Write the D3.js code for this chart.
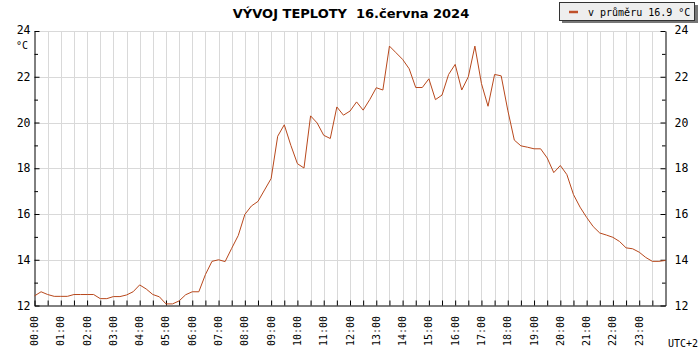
<!DOCTYPE html>
<html>
<head>
<meta charset="utf-8">
<script src="https://cdn.jsdelivr.net/npm/d3@7"></script>
<style>
  body { margin: 0; background: #fff; }
  svg { display: block; }
  .mono { font-family: "DejaVu Sans Mono", monospace; fill: #000; }
</style>
</head>
<body>
<svg id="chart" width="700" height="350"></svg>
<script>
// temperature every 15 minutes, 00:00 .. 24:00
const stepMinutes = 15;
const temps = [
  12.42, 12.6, 12.48, 12.4, 12.4, 12.4, 12.48, 12.48, 12.48, 12.48,
  12.3, 12.3, 12.39, 12.39, 12.46, 12.6, 12.9, 12.72, 12.48, 12.38,
  12.07, 12.07, 12.2, 12.47, 12.6, 12.6, 13.35, 13.93, 14.0, 13.92,
  14.5, 15.06, 15.98, 16.35, 16.55, 17.05, 17.55, 19.4, 19.9, 19.0,
  18.2, 18.01, 20.29, 19.98, 19.44, 19.3, 20.68, 20.32, 20.5, 20.9,
  20.54, 21.0, 21.52, 21.42, 23.34, 23.05, 22.76, 22.35, 21.53, 21.53,
  21.91, 21.0, 21.2, 22.1, 22.54, 21.42, 22.0, 23.34, 21.7, 20.71,
  22.1, 22.04, 20.54, 19.23, 18.98, 18.92, 18.85, 18.85, 18.45, 17.81,
  18.12, 17.72, 16.85, 16.3, 15.85, 15.45, 15.17, 15.08, 14.98, 14.8,
  14.52, 14.48, 14.33, 14.1, 13.93, 13.93, 13.97
];
const hourLabels = d3.range(24).map(h => String(h).padStart(2, "0") + ":00");
const yTicks = [12, 13, 14, 15, 16, 17, 18, 19, 20, 21, 22, 23, 24];
const avgLabel = "v průměru 16.9 °C";
const title = "VÝVOJ TEPLOTY  16.června 2024";

const lineColor = "#b8481c";
const gridColor = "#d9d9d9";

const svg = d3.select("#chart");
const pLeft = 34.5, pRight = 665.5, pTop = 31, pBottom = 305.5;

const x = d3.scaleLinear().domain([0, 24]).range([pLeft, pRight]);
const y = d3.scaleLinear().domain([12, 24]).range([pBottom, pTop]);

// grid
const halfHours = d3.range(1, 48).map(d => d / 2);
svg.append("g").selectAll("line").data(halfHours).join("line")
  .attr("x1", d => Math.round(x(d)) + 0.5).attr("x2", d => Math.round(x(d)) + 0.5)
  .attr("y1", pTop).attr("y2", pBottom)
  .attr("stroke", gridColor).attr("stroke-width", 1);
svg.append("g").selectAll("line").data(yTicks.filter(d => d % 2 === 0 && d > 12)).join("line")
  .attr("x1", pLeft).attr("x2", pRight)
  .attr("y1", d => Math.round(y(d)) + 0.5).attr("y2", d => Math.round(y(d)) + 0.5)
  .attr("stroke", gridColor).attr("stroke-width", 1);

// axes
const fmt = d => d % 2 === 0 ? d : "";
const yLeft = svg.append("g").attr("transform", `translate(${pLeft},0)`)
  .call(d3.axisLeft(y).tickValues(yTicks).tickFormat(fmt).tickSizeInner(-5).tickSizeOuter(0).tickPadding(4));
const yRight = svg.append("g").attr("transform", `translate(${pRight},0)`)
  .call(d3.axisRight(y).tickValues(yTicks).tickFormat(fmt).tickSizeInner(-5).tickSizeOuter(0).tickPadding(9));
[yLeft, yRight].forEach(g => {
  g.selectAll(".tick line").attr("x2", d => (d % 2 === 0 ? 5 : 3.5) * (g === yLeft ? 1 : -1));
  g.selectAll("text").attr("class", "mono").style("font-size", "11.5px");
  g.select(".domain").attr("stroke", "#000");
});
yLeft.selectAll(".tick").filter(d => d === 24).select("text").attr("dy", "0.25em");
yRight.selectAll(".tick").filter(d => d === 24).select("text").attr("dy", "0.25em");

const xAxis = svg.append("g").attr("transform", `translate(0,${pBottom})`)
  .call(d3.axisBottom(x).tickValues(d3.range(0, 48).map(d => d / 2)).tickFormat("").tickSizeInner(-5).tickSizeOuter(0));
xAxis.select(".domain").attr("stroke", "#000");

svg.append("g").selectAll("text").data(hourLabels).join("text")
  .attr("class", "mono").style("font-size", "10px")
  .attr("text-anchor", "end")
  .attr("transform", (d, i) => `translate(${x(i) + 3.5},316) rotate(-90)`)
  .text(d => d);

svg.append("text").attr("class", "mono").style("font-size", "10px")
  .attr("x", 16).attr("y", 49).text("°C");
svg.append("text").attr("class", "mono").style("font-size", "10px")
  .attr("x", 668).attr("y", 347).text("UTC+2");

// line
const line = d3.line()
  .x((d, i) => x(i * stepMinutes / 60))
  .y(d => y(d));
svg.append("path").datum(temps)
  .attr("d", line)
  .attr("fill", "none")
  .attr("stroke", lineColor)
  .attr("stroke-width", 1);

// title
svg.append("text")
  .attr("x", 351).attr("y", 17.5)
  .attr("text-anchor", "middle")
  .style("font-family", "'DejaVu Sans', sans-serif")
  .style("font-weight", "bold")
  .style("font-size", "13px")
  .style("white-space", "pre")
  .attr("xml:space", "preserve")
  .text(title);

// legend
const lg = svg.append("g");
lg.append("rect").attr("x", 562).attr("y", 5).attr("width", 136).attr("height", 18).attr("fill", "#777");
lg.append("rect").attr("x", 559.5).attr("y", 2.5).attr("width", 135).attr("height", 18)
  .attr("fill", "#eeeeee").attr("stroke", "#333");
lg.append("line").attr("x1", 569).attr("x2", 578).attr("y1", 12).attr("y2", 12)
  .attr("stroke", "#c0502a").attr("stroke-width", 2.5);
lg.append("text").attr("class", "mono").style("font-size", "10px")
  .attr("x", 588).attr("y", 15.5).text(avgLabel);
</script>
</body>
</html>
